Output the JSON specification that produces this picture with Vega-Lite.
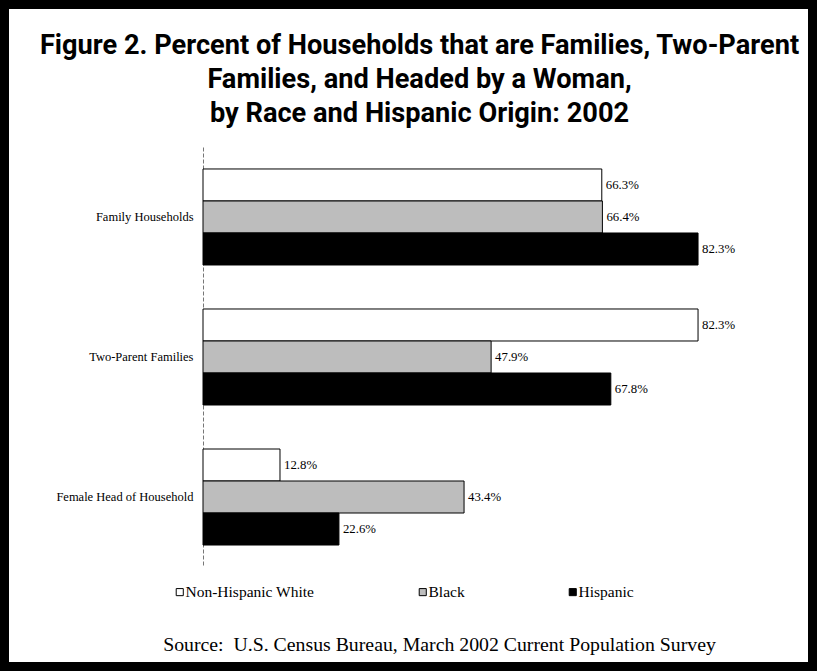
{
  "$schema": "https://vega.github.io/schema/vega-lite/v6.json",
  "width": 817,
  "height": 671,
  "autosize": {"type": "none"},
  "padding": 0,
  "background": "white",
  "config": {
    "view": {"stroke": "black", "strokeWidth": 18, "fill": "white"}
  },
  "title": {
    "text": [
      "Figure 2. Percent of Households that are Families, Two-Parent",
      "Families, and Headed by a Woman,",
      "by Race and Hispanic Origin: 2002"
    ],
    "font": "Roboto",
    "fontSize": 27.2,
    "fontWeight": "bold",
    "lineHeight": 34,
    "color": "black",
    "anchor": "middle",
    "frame": "group",
    "orient": "top",
    "baseline": "top",
    "offset": 0,
    "dx": 11,
    "dy": 128
  },
  "data": {
    "values": [
      {"category": "Family Households", "series": "Non-Hispanic White", "value": 0.663},
      {"category": "Family Households", "series": "Black", "value": 0.664},
      {"category": "Family Households", "series": "Hispanic", "value": 0.823},
      {"category": "Two-Parent Families", "series": "Non-Hispanic White", "value": 0.823},
      {"category": "Two-Parent Families", "series": "Black", "value": 0.479},
      {"category": "Two-Parent Families", "series": "Hispanic", "value": 0.678},
      {"category": "Female Head of Household", "series": "Non-Hispanic White", "value": 0.128},
      {"category": "Female Head of Household", "series": "Black", "value": 0.434},
      {"category": "Female Head of Household", "series": "Hispanic", "value": 0.226}
    ]
  },
  "encoding": {
    "y": {
      "field": "category",
      "type": "nominal",
      "sort": ["Family Households", "Two-Parent Families", "Female Head of Household"],
      "scale": {"range": [147, 567], "paddingInner": 0.3143, "paddingOuter": 0.157},
      "axis": {
        "title": null,
        "orient": "left",
        "offset": -203,
        "ticks": false,
        "labelPadding": 10,
        "labelFont": "Liberation Serif",
        "labelFontSize": 12.5,
        "labelColor": "black",
        "domainColor": "#777777",
        "domainWidth": 1,
        "domainDash": [4, 2]
      }
    },
    "yOffset": {
      "field": "series",
      "type": "nominal",
      "sort": ["Non-Hispanic White", "Black", "Hispanic"],
      "scale": {"paddingInner": 0, "paddingOuter": 0}
    },
    "x": {
      "field": "value",
      "type": "quantitative",
      "scale": {"domain": [0, 1], "range": [203, 804.5], "zero": true, "nice": false},
      "axis": {
        "orient": "bottom",
        "domain": false,
        "ticks": false,
        "labels": false,
        "grid": false,
        "title": "Source:\u00a0 U.S. Census Bureau, March 2002 Current Population Survey",
        "titleFont": "Liberation Serif",
        "titleFontSize": 19.8,
        "titleFontWeight": "normal",
        "titleColor": "black",
        "titleX": 439,
        "titleY": -21,
        "titleAlign": "center",
        "titleBaseline": "alphabetic"
      }
    }
  },
  "layer": [
    {
      "mark": {"type": "bar", "stroke": "black", "strokeWidth": 1},
      "encoding": {
        "fill": {
          "field": "series",
          "type": "nominal",
          "sort": ["Non-Hispanic White", "Black", "Hispanic"],
          "scale": {
            "domain": ["Non-Hispanic White", "Black", "Hispanic"],
            "range": ["#ffffff", "#bdbdbd", "#000000"]
          },
          "legend": {
            "title": null,
            "orient": "none",
            "legendX": 172,
            "legendY": 584,
            "direction": "horizontal",
            "columns": 3,
            "columnPadding": 100,
            "symbolType": "square",
            "symbolSize": 50,
            "symbolStrokeColor": "black",
            "symbolStrokeWidth": 1,
            "symbolOpacity": 1,
            "labelOffset": -2,
            "labelFont": "Liberation Serif",
            "labelFontSize": 15.5,
            "labelColor": "black",
            "labelLimit": 300
          }
        }
      }
    },
    {
      "mark": {
        "type": "text",
        "align": "left",
        "baseline": "middle",
        "dx": 4,
        "font": "Liberation Serif",
        "fontSize": 12.8,
        "color": "black"
      },
      "encoding": {
        "text": {"field": "value", "type": "quantitative", "format": ".1%"}
      }
    }
  ]
}
